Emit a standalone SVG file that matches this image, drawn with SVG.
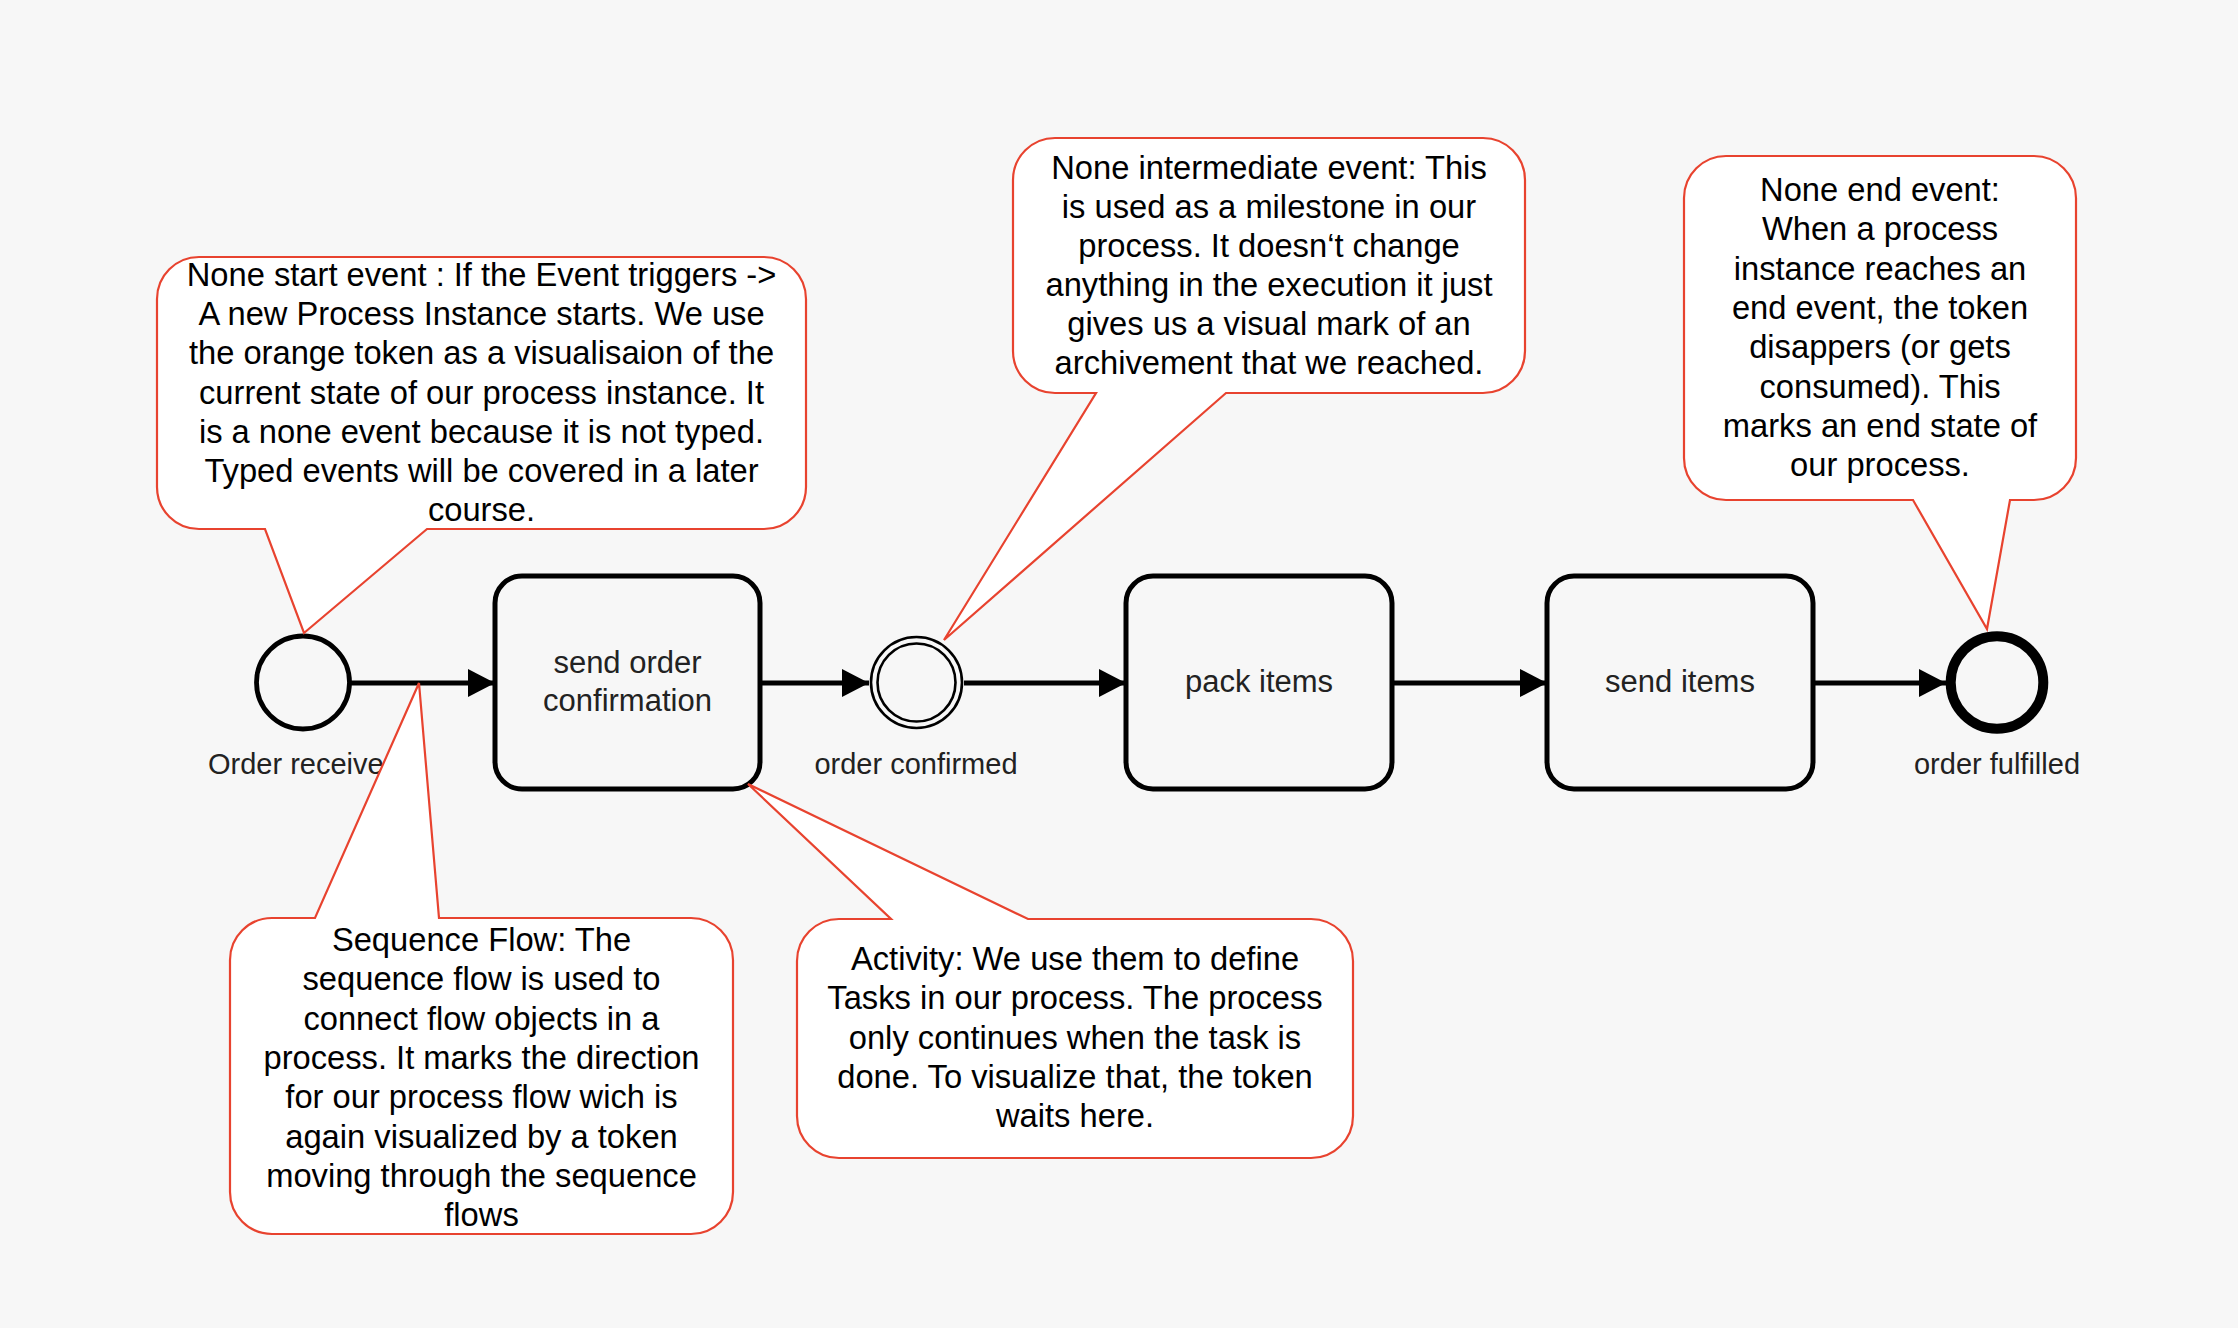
<svg xmlns="http://www.w3.org/2000/svg" width="2238" height="1328" viewBox="0 0 2238 1328">
  <defs>
    <marker id="arrow" markerUnits="userSpaceOnUse" markerWidth="30" markerHeight="30" refX="27" refY="14" orient="auto">
      <path d="M0,0 L27,14 L0,28 Z" fill="#000"/>
    </marker>
  </defs>
  <style>
    .bg { fill: #f7f7f7; }
    .task { fill: #f7f7f7; stroke: #000; stroke-width: 5; }
    .ev { fill: #f7f7f7; stroke: #000; }
    .flow { fill: none; stroke: #000; stroke-width: 5; }
    .callout { fill: #ffffff; stroke: #e8432f; stroke-width: 2.2; stroke-linejoin: miter; }
    .ctext { font-family: "Liberation Sans", Arial, Helvetica, sans-serif; font-size: 32.7px; fill: #000; text-anchor: middle; }
    .ttext { font-family: "Liberation Sans", Arial, Helvetica, sans-serif; font-size: 31px; fill: #222; text-anchor: middle; }
    .ltext { font-family: "Liberation Sans", Arial, Helvetica, sans-serif; font-size: 29px; fill: #222; }
  </style>
  <rect class="bg" x="0" y="0" width="2238" height="1328"/>

  <g id="connectors">
    <line class="flow" x1="351" y1="683" x2="495" y2="683" marker-end="url(#arrow)"/>
    <line class="flow" x1="760" y1="683" x2="869" y2="683" marker-end="url(#arrow)"/>
    <line class="flow" x1="964" y1="683" x2="1126" y2="683" marker-end="url(#arrow)"/>
    <line class="flow" x1="1392" y1="683" x2="1547" y2="683" marker-end="url(#arrow)"/>
    <line class="flow" x1="1813" y1="683" x2="1946" y2="683" marker-end="url(#arrow)"/>
  </g>

  <g id="start-event">
    <circle class="ev" cx="303" cy="682.5" r="46.5" stroke-width="4.8"/>
    <text class="ltext" x="208" y="774">Order receive</text>
  </g>

  <g id="task-send-order-confirmation">
    <rect class="task" x="495" y="576" width="265" height="213" rx="27"/>
    <text class="ttext" x="627.5" y="673">send order</text>
    <text class="ttext" x="627.5" y="711">confirmation</text>
  </g>

  <g id="intermediate-event">
    <circle class="ev" cx="916.5" cy="682.5" r="45.5" stroke-width="2.6"/>
    <circle class="ev" cx="916.5" cy="682.5" r="39" stroke-width="2.6"/>
    <text class="ltext" x="916" y="774" text-anchor="middle">order confirmed</text>
  </g>

  <g id="task-pack-items">
    <rect class="task" x="1126" y="576" width="266" height="213" rx="27"/>
    <text class="ttext" x="1259" y="692">pack items</text>
  </g>

  <g id="task-send-items">
    <rect class="task" x="1547" y="576" width="266" height="213" rx="27"/>
    <text class="ttext" x="1680" y="692">send items</text>
  </g>

  <g id="end-event">
    <circle class="ev" cx="1997" cy="682.5" r="46.3" stroke-width="10"/>
    <text class="ltext" x="1997" y="774" text-anchor="middle">order fulfilled</text>
  </g>

  <g id="callout-start-event">
    <path class="callout" d="M199,257 H764 A42,42 0 0 1 806,299 V487 A42,42 0 0 1 764,529 H427 L304,633 L265,529 H199 A42,42 0 0 1 157,487 V299 A42,42 0 0 1 199,257 Z"/>
    <text class="ctext" x="481.5" y="286">None start event : If the Event triggers -&gt;</text>
    <text class="ctext" x="481.5" y="325.2">A new Process Instance starts. We use</text>
    <text class="ctext" x="481.5" y="364.4">the orange token as a visualisaion of the</text>
    <text class="ctext" x="481.5" y="403.6">current state of our process instance. It</text>
    <text class="ctext" x="481.5" y="442.8">is a none event because it is not typed.</text>
    <text class="ctext" x="481.5" y="482">Typed events will be covered in a later</text>
    <text class="ctext" x="481.5" y="521.2">course.</text>
  </g>

  <g id="callout-sequence-flow">
    <path class="callout" d="M272,918 H315 L419,683 L439,918 H691 A42,42 0 0 1 733,960 V1192 A42,42 0 0 1 691,1234 H272 A42,42 0 0 1 230,1192 V960 A42,42 0 0 1 272,918 Z"/>
    <text class="ctext" x="481.5" y="951">Sequence Flow: The</text>
    <text class="ctext" x="481.5" y="990.3">sequence flow is used to</text>
    <text class="ctext" x="481.5" y="1029.6">connect flow objects in a</text>
    <text class="ctext" x="481.5" y="1068.9">process. It marks the direction</text>
    <text class="ctext" x="481.5" y="1108.2">for our process flow wich is</text>
    <text class="ctext" x="481.5" y="1147.5">again visualized by a token</text>
    <text class="ctext" x="481.5" y="1186.8">moving through the sequence</text>
    <text class="ctext" x="481.5" y="1226.1">flows</text>
  </g>

  <g id="callout-activity">
    <path class="callout" d="M839,919 H891 L748,784 L1028,919 H1311 A42,42 0 0 1 1353,961 V1116 A42,42 0 0 1 1311,1158 H839 A42,42 0 0 1 797,1116 V961 A42,42 0 0 1 839,919 Z"/>
    <text class="ctext" x="1075" y="970">Activity: We use them to define</text>
    <text class="ctext" x="1075" y="1009.25">Tasks in our process. The process</text>
    <text class="ctext" x="1075" y="1048.5">only continues when the task is</text>
    <text class="ctext" x="1075" y="1087.75">done. To visualize that, the token</text>
    <text class="ctext" x="1075" y="1127">waits here.</text>
  </g>

  <g id="callout-intermediate-event">
    <path class="callout" d="M1055,138 H1483 A42,42 0 0 1 1525,180 V351 A42,42 0 0 1 1483,393 H1226 L944,640 L1096,393 H1055 A42,42 0 0 1 1013,351 V180 A42,42 0 0 1 1055,138 Z"/>
    <text class="ctext" x="1269" y="179">None intermediate event: This</text>
    <text class="ctext" x="1269" y="218">is used as a milestone in our</text>
    <text class="ctext" x="1269" y="257">process. It doesn‘t change</text>
    <text class="ctext" x="1269" y="296">anything in the execution it just</text>
    <text class="ctext" x="1269" y="335">gives us a visual mark of an</text>
    <text class="ctext" x="1269" y="374">archivement that we reached.</text>
  </g>

  <g id="callout-end-event">
    <path class="callout" d="M1726,156 H2034 A42,42 0 0 1 2076,198 V458 A42,42 0 0 1 2034,500 H2010 L1987,629 L1913,500 H1726 A42,42 0 0 1 1684,458 V198 A42,42 0 0 1 1726,156 Z"/>
    <text class="ctext" x="1880" y="201">None end event:</text>
    <text class="ctext" x="1880" y="240.3">When a process</text>
    <text class="ctext" x="1880" y="279.6">instance reaches an</text>
    <text class="ctext" x="1880" y="318.9">end event, the token</text>
    <text class="ctext" x="1880" y="358.2">disappers (or gets</text>
    <text class="ctext" x="1880" y="397.5">consumed). This</text>
    <text class="ctext" x="1880" y="436.8">marks an end state of</text>
    <text class="ctext" x="1880" y="476.1">our process.</text>
  </g>
</svg>
